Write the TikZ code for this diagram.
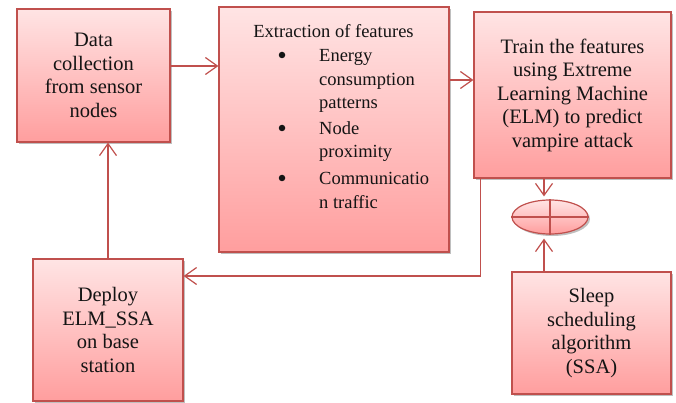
\documentclass[tikz,border=0pt]{standalone}
\usepackage{fontspec}
\setmainfont{Liberation Serif}
\usetikzlibrary{arrows.meta,shadows,shapes.geometric}
\definecolor{edgered}{RGB}{192,80,77}
\definecolor{toppink}{RGB}{255,228,228}
\definecolor{botpink}{RGB}{255,158,158}
\definecolor{txt}{RGB}{20,20,20}
\begin{document}
\begin{tikzpicture}[x=1pt,y=-1pt,
  flowbox/.style={draw=edgered, line width=1.2pt, top color=toppink, bottom color=botpink,
    drop shadow={shadow xshift=2pt, shadow yshift=-2pt, opacity=0.25, fill=black},
    align=center, text=txt, inner sep=0pt,
    font=\fontsize{20.5}{23.5}\selectfont},
  itemtext/.style={anchor=base west, align=left, inner sep=0pt, text=txt,
    font=\fontsize{18.5}{23.5}\selectfont},
  bulletmark/.style={circle, fill=txt, minimum size=6.5pt, inner sep=0pt},
  link/.style={draw=edgered, line width=1.2pt,
    -{Straight Barb[length=12pt,width=17pt,line width=1.2pt]}},
  plain/.style={draw=edgered, line width=1.2pt}]
\useasboundingbox (0,0) rectangle (676,403);

% boxes
\node[flowbox, minimum width=153pt, minimum height=133pt] (box1) at (93.5,75.5)
  {Data\\collection\\from sensor\\nodes};
\node[flowbox, minimum width=230pt, minimum height=245pt] (box2) at (334,129.5) {};
\node[flowbox, minimum width=197pt, minimum height=166pt] (box3) at (572.5,95)
  {Train the features\\using Extreme\\Learning Machine\\(ELM) to predict\\vampire attack};
\node[flowbox, minimum width=150pt, minimum height=142pt] (box4) at (108,330)
  {Deploy\\ELM\_SSA\\on base\\station};
\node[flowbox, minimum width=159pt, minimum height=122pt] (box5) at (591.5,333)
  {Sleep\\scheduling\\algorithm\\(SSA)};
\node[flowbox, ellipse, minimum width=76pt, minimum height=34pt] (ell) at (550,217) {};
\draw[plain] (ell.west) -- (ell.east);
\draw[plain] (ell.north) -- (ell.south);

% contents of box2
\node[anchor=base, inner sep=0pt, text=txt, font=\fontsize{18.5}{23.5}\selectfont] (title) at (333.5,38)
  {Extraction of features};
\node[bulletmark] (b1) at (282,55) {};
\node[itemtext] (i1) at (319,109) {Energy\\consumption\\patterns};
\node[bulletmark] (b2) at (282,128) {};
\node[itemtext] (i2) at (319,158) {Node\\proximity};
\node[bulletmark] (b3) at (282,178) {};
\node[itemtext] (i3) at (319,208) {Communicatio\\n traffic};

% connectors
\draw[link] ([yshift=9.5pt]box1.east) -- ([yshift=9.5pt]box1.east -| box2.west);
\draw[link] ([yshift=49.5pt]box2.east) -- ([yshift=49.5pt]box2.east -| box3.west);
\draw[link, shorten >=3pt] ([xshift=-6pt]ell.north |- box3.south) -- ([xshift=-6pt]ell.north);
\draw[link, shorten >=4pt] ([xshift=-6pt]ell.south |- box5.north) -- ([xshift=-6pt]ell.south);
\draw[link] ([xshift=7pt]box3.south west) |- ([yshift=54pt]box4.east);
\draw[link] (box4.north) -- (box4.north |- box1.south);
\end{tikzpicture}
\end{document}
